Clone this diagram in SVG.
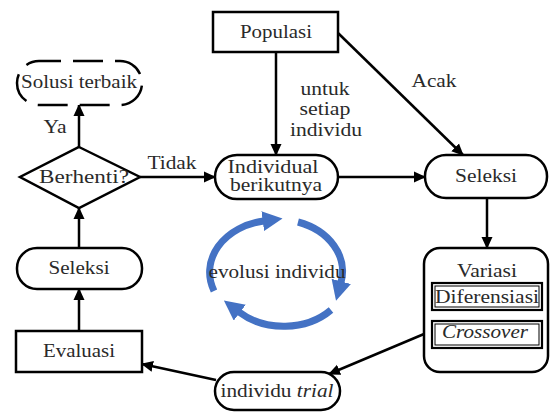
<svg xmlns="http://www.w3.org/2000/svg" width="550" height="412" viewBox="0 0 550 412" font-family="Liberation Serif, Times New Roman, Times, serif">
<defs>
<style>
.t{font-size:18px;fill:#2a2a2a;text-anchor:middle}
.i{font-style:italic}
.n{fill:#fff;stroke:#000;stroke-width:2.5}
.c{fill:none;stroke:#000;stroke-width:2.5}
.b{fill:none;stroke:#4472C4;stroke-width:7}
</style>
<marker id="ah" viewBox="0 0 12 12" refX="11" refY="6" markerWidth="12" markerHeight="12" markerUnits="userSpaceOnUse" orient="auto">
<path d="M0,0.5 L12,6 L0,11.5 z" fill="#000"/>
</marker>
<marker id="bh" viewBox="0 0 20 20" refX="1" refY="10" markerWidth="20" markerHeight="20" markerUnits="userSpaceOnUse" orient="auto">
<path d="M0,0 L20,10 L0,20 z" fill="#4472C4"/>
</marker>
</defs>
<rect width="550" height="412" fill="#fff"/>
<g id="connectors">
<line class="c" x1="276" y1="52" x2="276" y2="155" marker-end="url(#ah)"/>
<line class="c" x1="338" y1="33" x2="463" y2="155" marker-end="url(#ah)"/>
<line class="c" x1="338" y1="177" x2="425" y2="177" marker-end="url(#ah)"/>
<line class="c" x1="487" y1="198" x2="487" y2="248" marker-end="url(#ah)"/>
<line class="c" x1="424" y1="334" x2="329" y2="374" marker-end="url(#ah)"/>
<line class="c" x1="216" y1="380" x2="142" y2="364" marker-end="url(#ah)"/>
<line class="c" x1="79" y1="331" x2="79" y2="289" marker-end="url(#ah)"/>
<line class="c" x1="79" y1="248" x2="79" y2="208" marker-end="url(#ah)"/>
<line class="c" x1="79" y1="147" x2="79" y2="105" marker-end="url(#ah)"/>
<line class="c" x1="140" y1="177" x2="215" y2="177" marker-end="url(#ah)"/>
<text class="t" x="434" y="87" textLength="45" lengthAdjust="spacingAndGlyphs">Acak</text>
<text class="t" x="325" y="95" textLength="49" lengthAdjust="spacingAndGlyphs">untuk</text>
<text class="t" x="325" y="115" textLength="51" lengthAdjust="spacingAndGlyphs">setiap</text>
<text class="t" x="326" y="136" textLength="72" lengthAdjust="spacingAndGlyphs">individu</text>
<text class="t" x="55" y="133" textLength="23" lengthAdjust="spacingAndGlyphs">Ya</text>
<text class="t" x="172" y="169" textLength="49" lengthAdjust="spacingAndGlyphs">Tidak</text>
</g>
<g id="cycle">
<path class="b" d="M214,291 A65,52 0 0 1 263.7,221" marker-end="url(#bh)"/>
<path class="b" d="M298,222 A65,52 0 0 1 341,282.4" marker-end="url(#bh)"/>
<path class="b" d="M331,310 A65,52 0 0 1 239,312" marker-end="url(#bh)"/>
<text class="t" x="277" y="278" textLength="137" lengthAdjust="spacingAndGlyphs">evolusi individu</text>
</g>
<g id="populasi">
<rect class="n" x="213" y="12" width="125" height="40"/>
<text class="t" x="276" y="38" textLength="72" lengthAdjust="spacingAndGlyphs">Populasi</text>
</g>
<g id="individual">
<rect class="n" x="215" y="155" width="123" height="44" rx="22"/>
<text class="t" x="273" y="173" textLength="91" lengthAdjust="spacingAndGlyphs">Individual</text>
<text class="t" x="276" y="191" textLength="92" lengthAdjust="spacingAndGlyphs">berikutnya</text>
</g>
<g id="seleksi-kanan">
<rect class="n" x="425" y="155" width="122" height="43" rx="21"/>
<text class="t" x="486" y="182" textLength="62" lengthAdjust="spacingAndGlyphs">Seleksi</text>
</g>
<g id="solusi">
<rect x="17" y="61" width="125" height="44" rx="22" fill="#fff" stroke="#000" stroke-width="2.5" stroke-dasharray="30 12" stroke-dashoffset="8"/>
<text class="t" x="79" y="88" textLength="116" lengthAdjust="spacingAndGlyphs">Solusi terbaik</text>
</g>
<g id="berhenti">
<polygon class="n" points="79,147 140,177 79,208 20,177"/>
<text class="t" x="84" y="183" textLength="90" lengthAdjust="spacingAndGlyphs">Berhenti?</text>
</g>
<g id="seleksi-kiri">
<rect class="n" x="17" y="248" width="125" height="41" rx="20"/>
<text class="t" x="79" y="274" textLength="61" lengthAdjust="spacingAndGlyphs">Seleksi</text>
</g>
<g id="evaluasi">
<rect class="n" x="16" y="331" width="126" height="41"/>
<text class="t" x="79" y="357" textLength="72" lengthAdjust="spacingAndGlyphs">Evaluasi</text>
</g>
<g id="variasi">
<rect class="n" x="424" y="248" width="124" height="124" rx="16"/>
<text class="t" x="487" y="277" textLength="60" lengthAdjust="spacingAndGlyphs">Variasi</text>
<rect x="432" y="283" width="110" height="27" fill="#fff" stroke="#000" stroke-width="2.2"/>
<rect x="435" y="286" width="104" height="21" fill="none" stroke="#000" stroke-width="1"/>
<text class="t" x="487" y="303" textLength="104" lengthAdjust="spacingAndGlyphs">Diferensiasi</text>
<rect x="432" y="321" width="110" height="27" fill="#fff" stroke="#000" stroke-width="2.2"/>
<rect x="435" y="324" width="104" height="21" fill="none" stroke="#000" stroke-width="1"/>
<text class="t i" x="485" y="338" textLength="86" lengthAdjust="spacingAndGlyphs">Crossover</text>
</g>
<g id="trial">
<rect class="n" x="215" y="372" width="125" height="38" rx="19"/>
<text class="t" x="277" y="397" textLength="113" lengthAdjust="spacingAndGlyphs">individu <tspan class="i">trial</tspan></text>
</g>
</svg>
